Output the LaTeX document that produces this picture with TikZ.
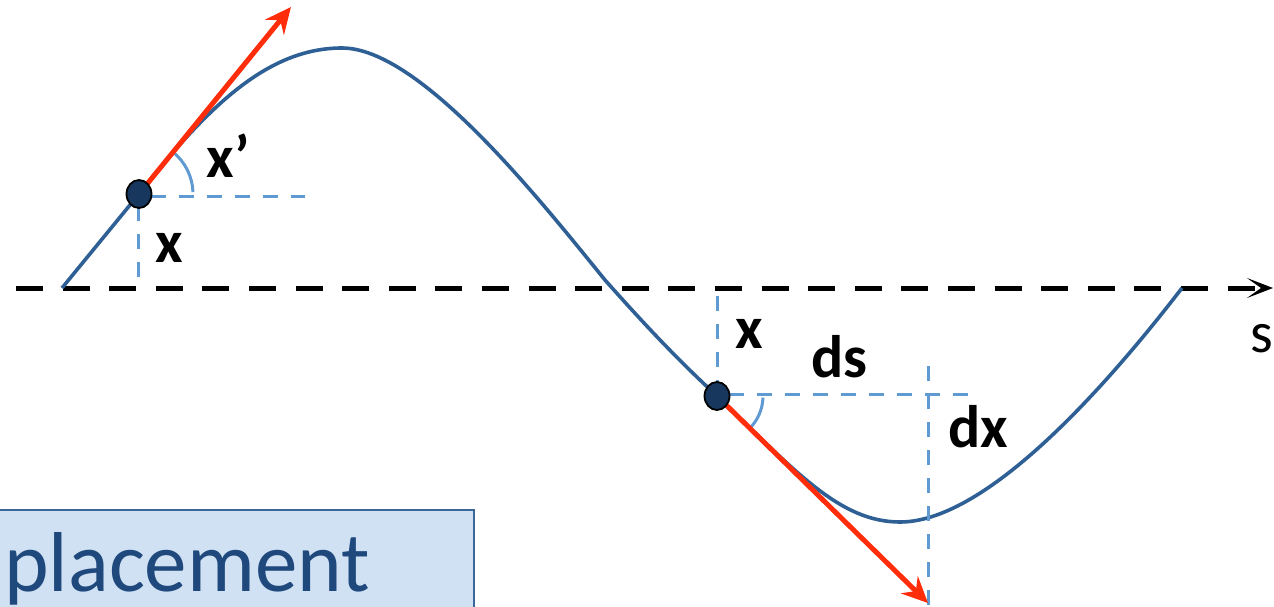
\documentclass[tikz,border=0pt]{standalone}
\usepackage{fontspec}
\setmainfont{Carlito}
\usetikzlibrary{arrows.meta,shapes.geometric}
\definecolor{curveblue}{HTML}{2E6095}
\definecolor{guideblue}{HTML}{5F9AD2}
\definecolor{arrowred}{HTML}{FF2D0A}
\definecolor{dotfill}{HTML}{17375E}
\definecolor{boxfill}{HTML}{D0E1F3}
\definecolor{boxborder}{HTML}{3A679B}
\definecolor{boxtext}{HTML}{1F497D}
\tikzset{
  curvestyle/.style={draw=curveblue, line width=3.6pt},
  axisstyle/.style={draw=black, line width=5pt, dash pattern=on 27pt off 19.6pt,
    -{Stealth[length=26pt,width=20pt,inset=14pt]}},
  guide/.style={draw=guideblue, line width=3pt, dash pattern=on 15pt off 13pt},
  anglearc/.style={draw=guideblue, line width=3pt},
  redarrow/.style={draw=arrowred, line width=5pt,
    -{Stealth[length=26pt,width=24pt,inset=9pt]}},
  dotstyle/.style={ellipse, draw=black, line width=1.8pt, fill=dotfill,
    minimum width=25pt, minimum height=28pt, inner sep=0pt},
  lbl/.style={inner sep=0pt, font=\fontsize{60}{60}\selectfont\bfseries},
  slbl/.style={inner sep=0pt, font=\fontsize{58}{58}\selectfont},
}
\begin{document}
\begin{tikzpicture}[x=1pt,y=-1pt]
\useasboundingbox (0,0) rectangle (1274,606);
\clip (0,0) rectangle (1274,606);
% box
\draw[fill=boxfill, draw=boxborder, line width=2pt] (-5,510) rectangle (474,650);
\node[anchor=base west, text=boxtext, inner sep=0pt, font=\fontsize{85}{85}\selectfont] (ptxt) at (4,591) {placement};
% coordinates
\coordinate (d1) at (139,194);
\coordinate (d2) at (717,396);
\coordinate (t1) at (291,7);
\coordinate (t2) at (928,603);
\coordinate (axL) at (16,288);
\coordinate (axR) at (1273,288);
% axis
\draw[axisstyle] (axL) -- (axR);
% curve
\draw[curvestyle] (62,288) -- (d1) .. controls (208,106) and (268,48) .. (342,48)
  .. controls (420,48) and (540,200) .. (605,280)
  .. controls (645,325) and (677,359) .. (d2)
  .. controls (796,472) and (840,522) .. (900,522)
  .. controls (990,522) and (1115,375) .. (1182,288);
% guides
\draw[guide] (138,206) -- (138,288);
\draw[guide] (151,196) -- (305,196);
\draw[guide] (717,296) -- (717,383);
\draw[guide] (729,394) -- (969,394);
\draw[guide] (928,366) -- (928,606);
% angle arcs
\draw[anglearc] (d1) ++(-51:54) arc[start angle=-51, end angle=-2, radius=54];
\draw[anglearc] (d2) ++(2:46) arc[start angle=2, end angle=44, radius=46];
% red arrows
\draw[redarrow] (d1) -- (t1);
\draw[redarrow] (d2) -- (t2);
% dots
\node[dotstyle] (n1) at (d1) {};
\node[dotstyle] (n2) at (d2) {};
% labels
\node[lbl, anchor=base west] (lx1p) at (206,177) {x’};
\node[lbl, anchor=base west] (lx1) at (155,262) {x};
\node[lbl, anchor=base west] (lx2) at (735,348) {x};
\node[lbl, anchor=base west] (lds) at (811,377) {ds};
\node[lbl, anchor=base west] (ldx) at (948,447) {dx};
\node[slbl, anchor=base west] (ls) at (1250,352) {s};
\end{tikzpicture}
\end{document}
